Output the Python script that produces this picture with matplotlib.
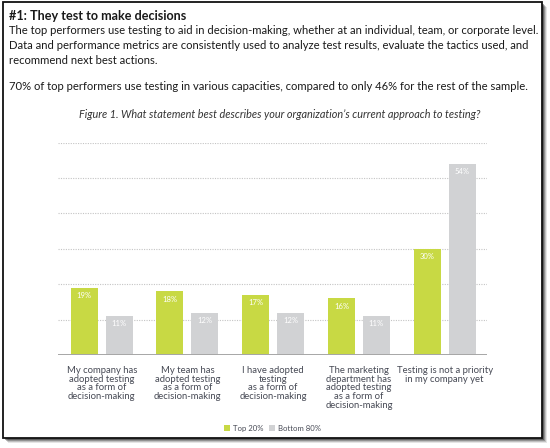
import matplotlib
matplotlib.use("Agg")
import matplotlib.pyplot as plt
from matplotlib.patches import Rectangle
import numpy as np

plt.rcParams['font.family'] = ['Lato', 'DejaVu Sans']

categories = [
    "My company has\nadopted testing\nas a form of\ndecision-making",
    "My team has\nadopted testing\nas a form of\ndecision-making",
    "I have adopted\ntesting\nas a form of\ndecision-making",
    "The marketing\ndepartment has\nadopted testing\nas a form of\ndecision-making",
    "Testing is not a priority\nin my company yet",
]
top20 = [19, 18, 17, 16, 30]
bottom80 = [11, 12, 12, 11, 54]
series_names = ["Top 20%", "Bottom 80%"]
yticks = [10, 20, 30, 40, 50, 60]

title = "#1: They test to make decisions"
body = [
    "The top performers use testing to aid in decision-making, whether at an individual, team, or corporate level.",
    "Data and performance metrics are consistently used to analyze test results, evaluate the tactics used, and",
    "recommend next best actions.",
]
note = "70% of top performers use testing in various capacities, compared to only 46% for the rest of the sample."
caption = "Figure 1. What statement best describes your organization\u2019s current approach to testing?"

GREEN = "#c8d944"
GRAY = "#d1d2d4"
W, H = 550, 448

fig = plt.figure(figsize=(5.5, 4.48), dpi=100)
renderer = fig.canvas.get_renderer()

def px(x, y):
    return x / W, 1 - y / H

def fit_size(s, target_w, **kw):
    t = fig.text(0, 0, s, fontsize=10, **kw)
    w = t.get_window_extent(renderer).width
    t.remove()
    return 10 * target_w / w

# frame with shadow
for i, a in enumerate([0.10, 0.16, 0.24, 0.34]):
    off = 5 - i
    fig.patches.append(Rectangle(px(2.5 + off, 437.5 + off), 539.5 / W, 435 / H,
                                 transform=fig.transFigure, facecolor="#000000",
                                 alpha=a, edgecolor="none", zorder=0))
fig.patches.append(Rectangle(px(2.5, 437.5), 539.5 / W, 435 / H,
                             transform=fig.transFigure, facecolor="white",
                             edgecolor="#111111", linewidth=1.3, zorder=1))

# header
tfs = fit_size(title, 177, fontweight="bold")
fig.text(*px(9, 15.5), title, fontsize=tfs, fontweight="bold", color="#1a1a1a", va="center", zorder=3)
fs = fit_size(body[0], 530)
fig.text(*px(9, 31), body[0], fontsize=fs, color="#1a1a1a", va="center", zorder=3)
for i, line in enumerate(body[1:]):
    fig.text(*px(9, 45.5 + 14.5 * i), line, fontsize=fs, color="#1a1a1a", va="center", zorder=3)
fig.text(*px(9, 86), note, fontsize=fs, color="#1a1a1a", va="center", zorder=3)
cfs = fit_size(caption, 400, style="italic")
fig.text(*px(280, 114.5), caption, fontsize=cfs, style="italic", color="#333333",
         ha="center", va="center", zorder=3)

# axes
ax = fig.add_axes([58.3 / W, 1 - 355 / H, 428.4 / W, (355 - 142.7) / H])
ax.set_zorder(2)
ax.patch.set_visible(False)
x = np.arange(len(categories))
bw = 0.315
off = 0.204
b1 = ax.bar(x - off, top20, bw, color=GREEN, zorder=3, label=series_names[0])
b2 = ax.bar(x + off, bottom80, bw, color=GRAY, zorder=3, label=series_names[1])
ax.set_xlim(-0.506, 4.49)
ax.set_ylim(0, 60)
for yv in yticks:
    ax.axhline(yv, color="#c4c4c4", linewidth=0.8, linestyle=(0, (1, 1.2)), zorder=1)
ax.axhline(0, color="#a6a6a6", linewidth=1.4, zorder=4)
for s in ax.spines.values():
    s.set_visible(False)
ax.set_xticks([])
ax.set_yticks([])

for bars, vals in ((b1, top20), (b2, bottom80)):
    for r, v in zip(bars, vals):
        ax.annotate(f"{v}%", (r.get_x() + r.get_width() / 2, v), xytext=(0, -5.6),
                    textcoords="offset points", ha="center", va="center",
                    fontsize=5.5, color="white", zorder=5)

# category labels
lfs = fit_size("My company has", 71)
for xi, lab in zip(x, categories):
    ax.annotate(lab, (xi, 0), xycoords=("data", "axes fraction"), xytext=(0, -7.8),
                textcoords="offset points", ha="center", va="top", fontsize=lfs,
                color="#474a55", linespacing=0.96, annotation_clip=False)

# legend
leg = fig.legend(handles=[b1, b2], labels=series_names, loc="center",
                 bbox_to_anchor=px(272.5, 428), ncol=2, frameon=False,
                 fontsize=5.6, handlelength=0.8, handleheight=0.8,
                 handletextpad=0.4, columnspacing=0.6, labelcolor="#474a55")

fig.savefig("out.png", dpi=100)
